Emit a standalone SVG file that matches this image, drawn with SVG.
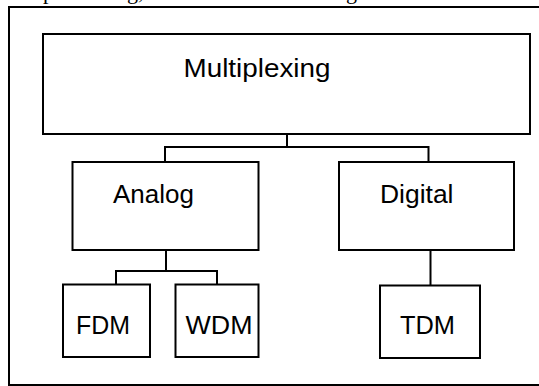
<svg xmlns="http://www.w3.org/2000/svg" width="539" height="386" viewBox="0 0 539 386">
<style>
.box{fill:#fff;stroke:#000;stroke-width:2}
.lbl{font-family:"Liberation Sans",Arial,sans-serif;font-size:26px;fill:#000}
.conn{fill:none;stroke:#000;stroke-width:2}
.top{font-family:"Liberation Serif","Times New Roman",serif;font-size:22px;fill:#000}
</style>
<rect width="539" height="386" fill="#fff"/>
<text class="top" y="-1"><tspan x="43">p</tspan><tspan x="127">g,</tspan><tspan x="346">g</tspan></text>
<rect id="frame" x="9" y="7" width="545" height="378" fill="none" stroke="#000" stroke-width="2"/>
<g id="connectors">
<path class="conn" d="M287 134 V147 M165 162 V147 H428.5 V162"/>
<path class="conn" d="M166 250 V271 M116 284.5 V271 H217 V284.5"/>
<path class="conn" d="M430.5 250 V285.5"/>
</g>
<g id="multiplexing">
<rect class="box" x="43" y="34" width="487" height="100"/>
<text class="lbl" x="183.5" y="77" textLength="147" lengthAdjust="spacingAndGlyphs">Multiplexing</text>
</g>
<g id="analog">
<rect class="box" x="72.5" y="162" width="186" height="88"/>
<text class="lbl" x="113" y="202.5" textLength="81" lengthAdjust="spacingAndGlyphs">Analog</text>
</g>
<g id="digital">
<rect class="box" x="339" y="162" width="175" height="88"/>
<text class="lbl" x="380" y="202.5" textLength="73.5" lengthAdjust="spacingAndGlyphs">Digital</text>
</g>
<g id="fdm">
<rect class="box" x="63" y="284.5" width="87" height="72.5"/>
<text class="lbl" x="76" y="333.5" textLength="54" lengthAdjust="spacingAndGlyphs">FDM</text>
</g>
<g id="wdm">
<rect class="box" x="175.5" y="284.5" width="83" height="72.5"/>
<text class="lbl" x="185.5" y="333.5" textLength="67" lengthAdjust="spacingAndGlyphs">WDM</text>
</g>
<g id="tdm">
<rect class="box" x="380" y="285.5" width="100" height="72.5"/>
<text class="lbl" x="400" y="334" textLength="55" lengthAdjust="spacingAndGlyphs">TDM</text>
</g>
</svg>
